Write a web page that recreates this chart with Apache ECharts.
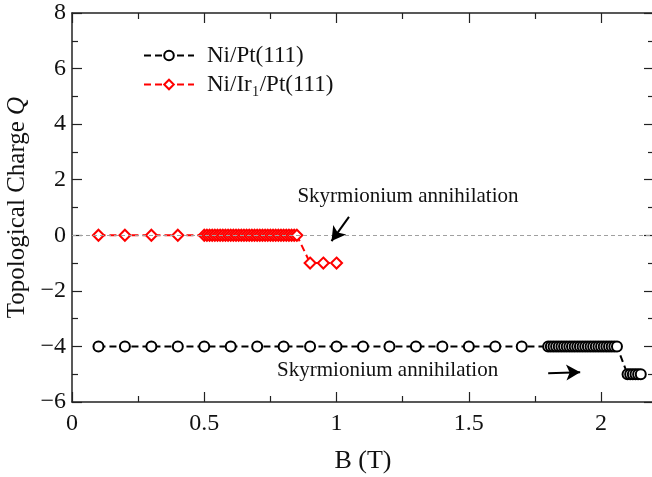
<!DOCTYPE html>
<html>
<head>
<meta charset="utf-8">
<script src="https://cdn.jsdelivr.net/npm/echarts@6/dist/echarts.min.js"></script>
<style>
  html, body { margin: 0; padding: 0; background: #fff; }
  #chart { width: 652px; height: 477px; }
</style>
</head>
<body>
<div id="chart"></div>
<script>
// Field sweep B (T) and topological charge Q for the two systems
const niPtB = [
  0.1, 0.2, 0.3, 0.4, 0.5, 0.6, 0.7, 0.8, 0.9, 1.0, 1.1, 1.2, 1.3, 1.4, 1.5, 1.6, 1.7,
  1.80, 1.81, 1.82, 1.83, 1.84, 1.85, 1.86, 1.87, 1.88, 1.89, 1.90, 1.91, 1.92, 1.93,
  1.94, 1.95, 1.96, 1.97, 1.98, 1.99, 2.00, 2.01, 2.02, 2.03, 2.04, 2.05, 2.06,
  2.10, 2.11, 2.12, 2.13, 2.14, 2.15
];
const niPtQ = [
  -4, -4, -4, -4, -4, -4, -4, -4, -4, -4, -4, -4, -4, -4, -4, -4, -4,
  -4, -4, -4, -4, -4, -4, -4, -4, -4, -4, -4, -4, -4, -4,
  -4, -4, -4, -4, -4, -4, -4, -4, -4, -4, -4, -4, -4,
  -5, -5, -5, -5, -5, -5
];
const niIrPtB = [
  0.1, 0.2, 0.3, 0.4,
  0.50, 0.51, 0.52, 0.53, 0.54, 0.55, 0.56, 0.57, 0.58, 0.59,
  0.60, 0.61, 0.62, 0.63, 0.64, 0.65, 0.66, 0.67, 0.68, 0.69,
  0.70, 0.71, 0.72, 0.73, 0.74, 0.75, 0.76, 0.77, 0.78, 0.79,
  0.80, 0.81, 0.82, 0.83, 0.84, 0.85,
  0.90, 0.95, 1.00
];
const niIrPtQ = [
  0, 0, 0, 0,
  0, 0, 0, 0, 0, 0, 0, 0, 0, 0,
  0, 0, 0, 0, 0, 0, 0, 0, 0, 0,
  0, 0, 0, 0, 0, 0, 0, 0, 0, 0,
  0, 0, 0, 0, 0, 0,
  -1, -1, -1
];

const seriesNames = ['Ni/Pt(111)', 'Ni/Ir\u2081/Pt(111)'];
const noteText = 'Skyrmionium annihilation';
// annotation anchors [B, Q]
const noteTop = [1.27, 1.39];
const noteBottom = [1.193, -4.85];
const arrowTop = [[1.047, 0.66], [0.981, -0.21]];
const arrowBottom = [[1.800, -4.965], [1.921, -4.925]];

const FONT = "'Liberation Serif', 'Times New Roman', serif";
const AXIS_COLOR = '#222';

const zip = (xs, ys) => xs.map((x, i) => [x, ys[i]]);

const chart = echarts.init(document.getElementById('chart'), null, { renderer: 'canvas' });

function axisBase(extra) {
  return Object.assign({
    type: 'value',
    axisLine: { show: true, onZero: false, lineStyle: { color: AXIS_COLOR, width: 1.5 } },
    axisTick: { show: true, inside: true, length: 10, lineStyle: { color: AXIS_COLOR, width: 1.2 } },
    minorTick: { show: true, splitNumber: 2, length: 6, lineStyle: { color: AXIS_COLOR, width: 1.2 } },
    splitLine: { show: false },
    minorSplitLine: { show: false }
  }, extra);
}

const arrowStyle = { color: '#000', width: 2, type: 'solid' };

chart.setOption({
  animation: false,
  backgroundColor: '#fff',
  textStyle: { fontFamily: FONT },
  grid: { left: 72, right: -2, top: 13, bottom: 75, containLabel: false, outerBoundsMode: 'none' },
  legend: {
    data: seriesNames,
    orient: 'vertical',
    left: 138,
    top: 39,
    itemWidth: 50,
    itemHeight: 12,
    itemGap: 6,
    textStyle: { fontFamily: FONT, fontSize: 23, color: '#111', padding: [0, 0, 0, 8] }
  },
  xAxis: [
    axisBase({
      min: 0, max: 2.2, interval: 0.5, position: 'bottom',
      name: 'B (T)', nameLocation: 'middle', nameGap: 46,
      nameTextStyle: { fontFamily: FONT, fontSize: 26, color: '#111' },
      axisLabel: { show: true, fontFamily: FONT, fontSize: 24, color: '#111', margin: 10, showMaxLabel: false }
    }),
    axisBase({
      min: 0, max: 2.2, interval: 0.5, position: 'top',
      axisLabel: { show: false }
    })
  ],
  yAxis: [
    axisBase({
      min: -6, max: 8, interval: 2, position: 'left',
      name: '{t|Topological Charge }{q|Q}', nameLocation: 'middle', nameGap: 35,
      nameTextStyle: {
        rich: {
          t: { fontFamily: FONT, fontSize: 25, color: '#111' },
          q: { fontFamily: FONT, fontSize: 25, color: '#111', fontStyle: 'italic' }
        }
      },
      axisLabel: {
        show: true, fontFamily: FONT, fontSize: 24, color: '#111', margin: 6,
        formatter: v => String(v).replace('-', '\u2212')
      }
    }),
    axisBase({
      min: -6, max: 8, interval: 2, position: 'right',
      axisLabel: { show: false }
    })
  ],
  series: [
    {
      name: seriesNames[0],
      type: 'line',
      z: 3,
      data: zip(niPtB, niPtQ),
      symbol: 'circle',
      symbolSize: 10,
      showAllSymbol: true,
      lineStyle: { color: '#000', width: 2, type: [7, 4] },
      itemStyle: { color: '#fff', borderColor: '#000', borderWidth: 2 },
      emphasis: { disabled: true },
      markLine: {
        silent: true,
        animation: false,
        label: { show: false },
        emphasis: { disabled: true },
        data: [
          [
            { coord: [0, 0], symbol: 'none', lineStyle: { color: '#a0a0a0', width: 1, type: [4, 3] } },
            { coord: [2.2, 0], symbol: 'none' }
          ],
          [
            { coord: arrowTop[0], symbol: 'none', lineStyle: arrowStyle },
            { coord: arrowTop[1], symbol: 'arrow', symbolSize: [12, 14] }
          ],
          [
            { coord: arrowBottom[0], symbol: 'none', lineStyle: arrowStyle },
            { coord: arrowBottom[1], symbol: 'arrow', symbolSize: [12, 14] }
          ]
        ]
      }
    },
    {
      name: seriesNames[1],
      type: 'line',
      z: 4,
      data: zip(niIrPtB, niIrPtQ),
      symbol: 'diamond',
      symbolSize: 11,
      showAllSymbol: true,
      lineStyle: { color: '#ff0000', width: 2, type: [7, 4] },
      itemStyle: { color: '#fff', borderColor: '#ff0000', borderWidth: 2 },
      emphasis: { disabled: true }
    }
  ]
});

// Text notes placed in data coordinates
const pTop = chart.convertToPixel({ gridIndex: 0 }, noteTop);
const pBottom = chart.convertToPixel({ gridIndex: 0 }, noteBottom);
const noteStyle = {
  text: noteText,
  font: "21px 'Liberation Serif', 'Times New Roman', serif",
  fill: '#111',
  textAlign: 'center',
  textVerticalAlign: 'middle'
};
chart.setOption({
  graphic: [
    { type: 'text', x: pTop[0], y: pTop[1], style: noteStyle, z: 10 },
    { type: 'text', x: pBottom[0], y: pBottom[1], style: noteStyle, z: 10 }
  ]
});
</script>
</body>
</html>
